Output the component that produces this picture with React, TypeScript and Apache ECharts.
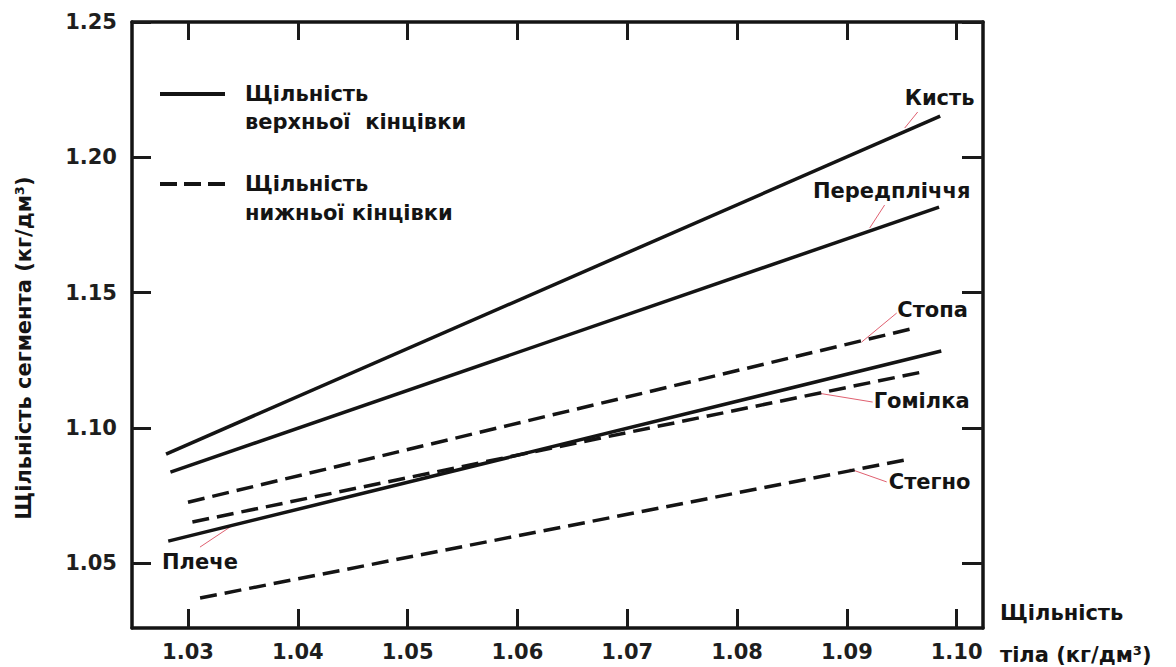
import { useEffect, useRef } from 'react';
import * as echarts from 'echarts';

// Axis ticks
const xTicks = [1.03, 1.04, 1.05, 1.06, 1.07, 1.08, 1.09, 1.1];
const yTicks = [1.05, 1.1, 1.15, 1.2, 1.25];
const xMin = 1.0249;
const xMax = 1.1024;
const yMin = 1.026;
const yMax = 1.25;

// Upper limb (solid)
const kyst = [[1.028, 1.0903], [1.0985, 1.2152]];
const peredplichchia = [[1.0284, 1.0836], [1.0984, 1.1816]];
const pleche = [[1.0282, 1.0581], [1.0986, 1.1284]];
// Lower limb (dashed)
const stopa = [[1.03, 1.0725], [1.0963, 1.137]];
const homilka = [[1.0304, 1.0652], [1.0973, 1.121]];
const stehno = [[1.0311, 1.0371], [1.0953, 1.0881]];

// Annotations: text position and leader line (data space)
const annotations = [
  { text: 'Кисть', at: [1.09845, 1.2219], from: [1.09645, 1.21673], to: [1.09527, 1.21081] },
  { text: 'Передпліччя', at: [1.09408, 1.18752], from: [1.09344, 1.18235], to: [1.09208, 1.17384] },
  { text: 'Стопа', at: [1.09781, 1.14353], from: [1.09454, 1.14242], to: [1.09135, 1.1317] },
  { text: 'Гомілка', at: [1.09681, 1.10989], from: [1.09235, 1.10952], to: [1.08735, 1.11285] },
  { text: 'Стегно', at: [1.09754, 1.08], from: [1.09363, 1.08], to: [1.09026, 1.08481] },
  { text: 'Плече', at: [1.03109, 1.05037], from: [1.03109, 1.05591], to: [1.0341, 1.06405] },
];

const FONT = '"DejaVu Sans", "Liberation Sans", sans-serif';
const INK = '#141414';
const DASH = [17, 8];
const FS = 21;

export default function App() {
  const ref = useRef<HTMLDivElement>(null);

  useEffect(() => {
    if (!ref.current) return;
    const chart = echarts.init(ref.current, null, { renderer: 'svg' });

    const labelStyle = {
      fontSize: FS,
      fontWeight: 'bold' as const,
      fontFamily: FONT,
      color: '#1e1e1e',
    };
    const tickOf = (values: number[], length: number) => ({
      show: true,
      inside: true,
      length,
      customValues: values,
      lineStyle: { color: '#1a1a1a', width: 3 },
    });

    const solid = (name: string, data: number[][]) => ({
      name,
      type: 'line',
      data,
      symbol: 'none',
      silent: true,
      lineStyle: { color: INK, width: 3.5 },
    });
    const dashed = (name: string, data: number[][]) => ({
      name,
      type: 'line',
      data,
      symbol: 'none',
      silent: true,
      lineStyle: { color: INK, width: 3.5, type: DASH },
    });

    chart.setOption({
      animation: false,
      backgroundColor: '#ffffff',
      grid: { left: 132, top: 22, right: 193, bottom: 39 },
      xAxis: [
        {
          type: 'value',
          position: 'bottom',
          min: xMin,
          max: xMax,
          axisLine: { show: true, lineStyle: { color: INK, width: 3.5 } },
          axisTick: tickOf(xTicks, 19),
          axisLabel: {
            ...labelStyle,
            customValues: xTicks,
            margin: 13,
            formatter: (v: number) => v.toFixed(2),
          },
          splitLine: { show: false },
        },
        {
          type: 'value',
          position: 'top',
          min: xMin,
          max: xMax,
          axisLine: { show: true, lineStyle: { color: INK, width: 3.5 } },
          axisTick: tickOf(xTicks, 18),
          axisLabel: { show: false, customValues: xTicks },
          splitLine: { show: false },
        },
      ],
      yAxis: [
        {
          type: 'value',
          position: 'left',
          min: yMin,
          max: yMax,
          axisLine: { show: true, lineStyle: { color: INK, width: 3.5 } },
          axisTick: tickOf(yTicks, 19),
          axisLabel: {
            ...labelStyle,
            customValues: yTicks,
            margin: 15,
            formatter: (v: number) => v.toFixed(2),
          },
          splitLine: { show: false },
        },
        {
          type: 'value',
          position: 'right',
          min: yMin,
          max: yMax,
          axisLine: { show: true, lineStyle: { color: INK, width: 3.5 } },
          axisTick: tickOf(yTicks, 21),
          axisLabel: { show: false, customValues: yTicks },
          splitLine: { show: false },
        },
      ],
      series: [
        solid('Кисть', kyst),
        solid('Передпліччя', peredplichchia),
        solid('Плече', pleche),
        dashed('Стопа', stopa),
        dashed('Гомілка', homilka),
        dashed('Стегно', stehno),
      ],
    });

    const px = (p: number[]) => chart.convertToPixel({ xAxisIndex: 0, yAxisIndex: 0 }, p) as number[];
    const textStyle = (text: string, align = 'left') => ({
      text,
      fontSize: FS,
      fontWeight: 'bold',
      fontFamily: FONT,
      fill: INK,
      align,
      verticalAlign: 'middle',
    });

    const graphics: any[] = [];
    annotations.forEach((a) => {
      const t = px(a.at);
      const f = px(a.from);
      const e = px(a.to);
      graphics.push({
        type: 'line',
        silent: true,
        shape: { x1: f[0], y1: f[1], x2: e[0], y2: e[1] },
        style: { stroke: '#e06070', lineWidth: 1 },
      });
      graphics.push({ type: 'text', silent: true, x: t[0], y: t[1], style: textStyle(a.text, 'center') });
    });

    // Legend
    graphics.push(
      { type: 'line', silent: true, shape: { x1: 160, y1: 94, x2: 225, y2: 94 }, style: { stroke: INK, lineWidth: 4 } },
      { type: 'text', silent: true, x: 245, y: 94, style: textStyle('Щільність') },
      { type: 'text', silent: true, x: 245, y: 122, style: textStyle('верхньої  кінцівки') },
      { type: 'line', silent: true, shape: { x1: 160, y1: 184, x2: 225, y2: 184 }, style: { stroke: INK, lineWidth: 4, lineDash: [17, 7] } },
      { type: 'text', silent: true, x: 245, y: 184, style: textStyle('Щільність') },
      { type: 'text', silent: true, x: 245, y: 213, style: textStyle('нижньої кінцівки') },
      // axis titles
      { type: 'text', silent: true, x: 24, y: 348, rotation: Math.PI / 2, style: textStyle('Щільність сегмента (кг/дм³)', 'center') },
      { type: 'text', silent: true, x: 1000, y: 613, style: textStyle('Щільність') },
      { type: 'text', silent: true, x: 1000, y: 655, style: textStyle('тіла (кг/дм³)') },
    );

    chart.setOption({ graphic: graphics });

    return () => chart.dispose();
  }, []);

  return (
    <div
      ref={ref}
      style={{ position: 'fixed', left: 0, top: 0, width: 1176, height: 667, background: '#fff' }}
    />
  );
}
